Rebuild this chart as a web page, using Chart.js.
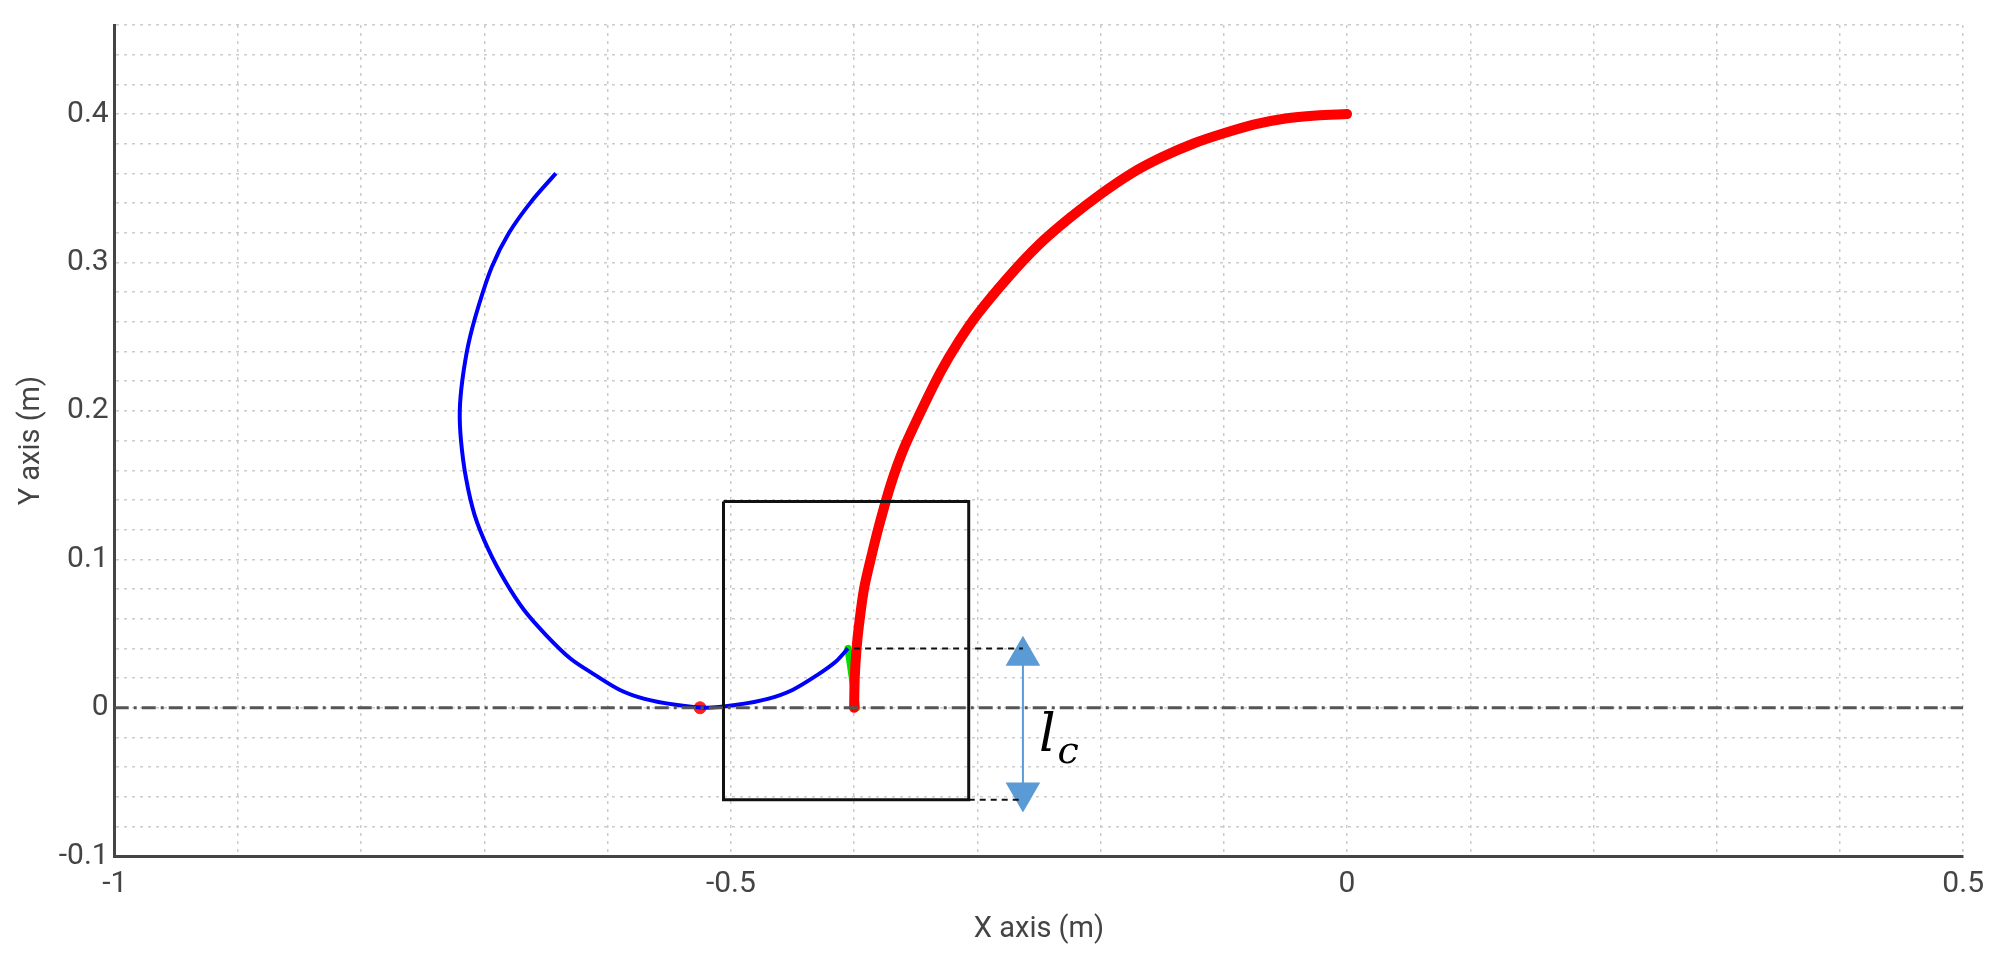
<!DOCTYPE html>
<html><head><meta charset="utf-8">
<script src="https://cdn.jsdelivr.net/npm/chart.js@4"></script>
<style>html,body{margin:0;background:#fff}#w{width:1994px;height:956px}</style>
</head><body><div id="w"><canvas id="c"></canvas></div>
<script>
const redPath = [[0,0.4],[-0.025,0.399],[-0.05,0.397],[-0.075,0.393],[-0.1,0.387],[-0.125,0.38],[-0.15,0.371],[-0.175,0.36],[-0.2,0.346],[-0.225,0.33],[-0.25,0.312],[-0.275,0.29],[-0.3,0.265],[-0.315,0.247],[-0.33,0.226],[-0.345,0.201],[-0.36,0.174],[-0.37,0.151],[-0.38,0.122],[-0.386,0.102],[-0.392,0.08],[-0.396,0.056],[-0.398,0.04],[-0.3995,0.02],[-0.4,0]];
const bluePath = [[-0.642,0.36],[-0.662,0.341],[-0.68,0.32],[-0.694,0.297],[-0.705,0.27],[-0.713,0.245],[-0.718,0.22],[-0.72,0.2],[-0.719,0.18],[-0.715,0.155],[-0.708,0.13],[-0.697,0.107],[-0.683,0.085],[-0.668,0.066],[-0.65,0.049],[-0.63,0.033],[-0.61,0.022],[-0.59,0.012],[-0.57,0.006],[-0.545,0.002],[-0.52,0],[-0.495,0.002],[-0.47,0.006],[-0.45,0.012],[-0.43,0.022],[-0.415,0.031],[-0.405,0.04]];
const greenPath = [[-0.405,0.04],[-0.398,0]];
const redDot = [[-0.525,0]];
const boxPath = [[-0.506,0.139],[-0.307,0.139],[-0.307,-0.062],[-0.506,-0.062],[-0.506,0.139]];
const dashTop = [[-0.4,0.04],[-0.263,0.04]];
const dashBottom = [[-0.307,-0.062],[-0.263,-0.062]];
const arrowPath = [[-0.263,0.035],[-0.263,-0.057]];
const zeroLine = [[-1,0],[0.5,0]];
const xLabels = {"-1":"-1","-0.5":"-0.5","0":"0","0.5":"0.5"};
const yLabels = {"-0.1":"-0.1","0":"0","0.1":"0.1","0.2":"0.2","0.3":"0.3","0.4":"0.4"};
const lcLabel = {text:"l", sub:"c", x:-0.25, y:-0.02};

const pts = a => a.map(p=>({x:p[0],y:p[1]}));
const line = (d,color,w,extra={}) => Object.assign({data:pts(d),showLine:true,borderColor:color,borderWidth:w,pointRadius:0,fill:false},extra);

const labelPlugin = {id:'lc',afterDatasetsDraw(ch){
  const c=ch.ctx,x=ch.scales.x.getPixelForValue(lcLabel.x),y=ch.scales.y.getPixelForValue(lcLabel.y);
  c.save();c.fillStyle='#000';c.font='italic 52px "DejaVu Serif"';c.textBaseline='middle';
  c.fillText(lcLabel.text,x,y);const w=c.measureText(lcLabel.text).width;
  c.font='italic 38px "DejaVu Serif"';c.fillText(lcLabel.sub,x+w+2,y+16);c.restore();}};

Chart.defaults.font.family='Roboto';
new Chart(document.getElementById('c'),{type:'scatter',
 data:{datasets:[
  line(zeroLine,'#555',3,{borderDash:[14,5,3,5]}),
  line(boxPath,'#111',3,{tension:0}),
  line(dashTop,'#111',2,{borderDash:[6,5]}),
  line(dashBottom,'#111',2,{borderDash:[6,5]}),
  line(arrowPath,'#5b9bd5',2,{pointRadius:[18,18],pointStyle:'triangle',rotation:[0,180],pointBackgroundColor:'#5b9bd5',pointBorderColor:'#5b9bd5'}),
  line(bluePath,'#0000ff',4,{tension:0.3}),
  line(redPath,'#ff0000',10,{tension:0.3,borderCapStyle:'round'}),
  line(greenPath,'#00e000',7,{borderCapStyle:'round'}),
  {data:pts(redDot),pointRadius:6,pointBackgroundColor:'#ff2020',pointBorderColor:'#ff2020'}
 ]},
 options:{responsive:true,maintainAspectRatio:false,animation:false,
  layout:{padding:{top:25,right:30,left:10,bottom:5}},
  plugins:{legend:{display:false},tooltip:{enabled:false}},
  scales:{
   x:{type:'linear',min:-1,max:0.5,
     border:{color:'#444',width:3,dash:[3,5]},
     grid:{color:'#cccccc',lineWidth:1.5,drawTicks:false},
     ticks:{stepSize:0.1,autoSkip:false,padding:10,color:'#444',font:{size:30},callback:v=>xLabels[String(Math.round(v*10)/10)]??''},
     title:{display:true,text:'X axis (m)',color:'#444',font:{size:29},padding:{top:0}}},
   y:{type:'linear',min:-0.1,max:0.46,
     border:{color:'#444',width:3,dash:[3,5]},
     grid:{color:'#cccccc',lineWidth:1.5,drawTicks:false},
     ticks:{stepSize:0.02,autoSkip:false,padding:6,color:'#444',font:{size:30},callback:v=>{const r=Math.round(v*100)/100;return Math.abs(r*10-Math.round(r*10))<1e-6?(yLabels[String(Math.round(r*10)/10)]??''):'';}},
     title:{display:true,text:'Y axis (m)',color:'#444',font:{size:29}}}
  }},
 plugins:[labelPlugin]
});
</script></body></html>
